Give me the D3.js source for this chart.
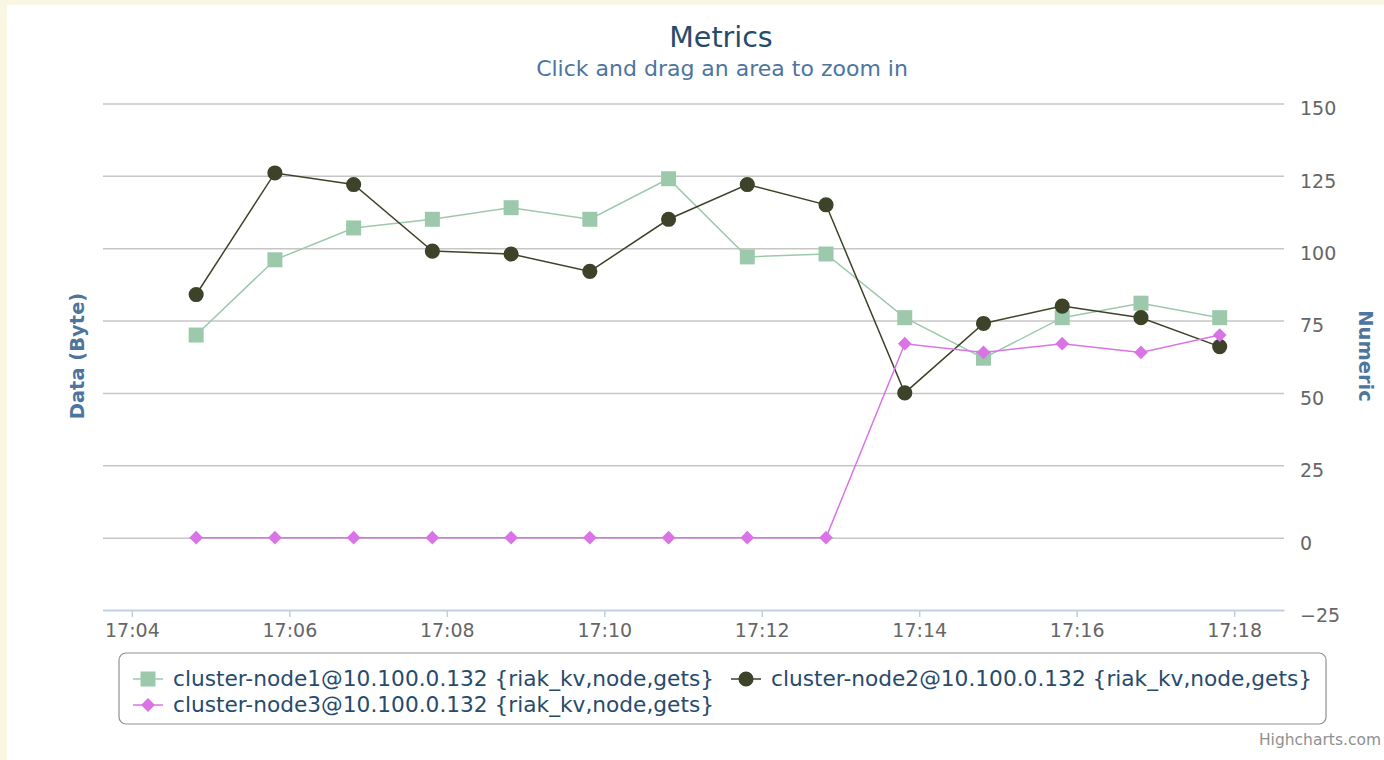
<!DOCTYPE html>
<html>
<head>
<meta charset="utf-8">
<script src="https://cdn.jsdelivr.net/npm/d3@7"></script>
<style>
body { margin: 0; background: #faf6e4; }
svg { display: block; }
text { font-family: "DejaVu Sans", sans-serif; }
</style>
</head>
<body>
<svg id="chart" width="1384" height="760"></svg>
<script>
// data
const times = ["17:04:49", "17:05:49", "17:06:49", "17:07:49", "17:08:49", "17:09:49", "17:10:49",
    "17:11:49", "17:12:49", "17:13:49", "17:14:49", "17:15:49", "17:16:49", "17:17:49"];
const node1 = [70, 96, 107, 110, 114, 110, 124, 97, 98, 76, 62, 76, 81, 76];
const node2 = [84, 126, 122, 99, 98, 92, 110, 122, 115, 50, 74, 80, 76, 66];
const node3 = [0, 0, 0, 0, 0, 0, 0, 0, 0, 67, 64, 67, 64, 70];
const seriesNames = [
    "cluster-node1@10.100.0.132 {riak_kv,node,gets}",
    "cluster-node2@10.100.0.132 {riak_kv,node,gets}",
    "cluster-node3@10.100.0.132 {riak_kv,node,gets}"
];
const xTickLabels = ["17:04", "17:06", "17:08", "17:10", "17:12", "17:14", "17:16", "17:18"];
const yTicks = [-25, 0, 25, 50, 75, 100, 125, 150];
const xDomain = ["17:03:38", "17:18:38"];

const parseSec = d3.timeParse("%H:%M:%S");
const parseMin = d3.timeParse("%H:%M");

const plot = {left: 103, right: 1284, top: 103.5, bottom: 610};

const svg = d3.select("#chart");

// white panel inside the cream page
svg.append("rect")
    .attr("x", 7).attr("y", 5)
    .attr("width", 1384 - 7).attr("height", 760 - 5)
    .attr("fill", "#ffffff");

const x = d3.scaleTime()
    .domain(xDomain.map(parseSec))
    .range([plot.left, plot.right]);

const y = d3.scaleLinear()
    .domain([-25, 150])
    .range([plot.bottom, plot.top]);

// title + subtitle
svg.append("text")
    .attr("x", 721).attr("y", 47)
    .attr("text-anchor", "middle")
    .attr("fill", "#274b6d")
    .style("font-size", "28.5px")
    .text("Metrics");

svg.append("text")
    .attr("x", 722).attr("y", 76)
    .attr("text-anchor", "middle")
    .attr("fill", "#4d759e")
    .style("font-size", "22px")
    .text("Click and drag an area to zoom in");

// grid + right axis
const yAxis = svg.append("g")
    .attr("transform", `translate(${plot.right},0)`)
    .call(d3.axisRight(y).tickValues(yTicks).tickSize(0).tickPadding(16));
yAxis.select(".domain").remove();
yAxis.selectAll(".tick text")
    .attr("fill", "#666666")
    .attr("dy", "0.6em")
    .style("font-size", "19px")
    .style("font-family", "DejaVu Sans, sans-serif");
yAxis.selectAll(".tick").append("line")
    .attr("x1", plot.left - plot.right).attr("x2", 0)
    .attr("stroke", "#c6c6c6")
    .attr("stroke-width", 1.5);

// x axis
const xAxis = svg.append("g")
    .attr("transform", `translate(0,${plot.bottom})`)
    .call(d3.axisBottom(x)
        .tickValues(xTickLabels.map(parseMin))
        .tickFormat(d3.timeFormat("%H:%M"))
        .tickSize(7).tickPadding(7).tickSizeOuter(0));
xAxis.select(".domain")
    .attr("stroke", "#c0d0e0").attr("stroke-width", 1.5);
xAxis.selectAll(".tick line").attr("stroke", "#c0d0e0").attr("stroke-width", 1.5);
xAxis.selectAll(".tick text")
    .attr("fill", "#666666")
    .style("font-size", "19px")
    .style("font-family", "DejaVu Sans, sans-serif");

// axis titles
svg.append("text")
    .attr("transform", "translate(77,356) rotate(-90)")
    .attr("text-anchor", "middle")
    .attr("dy", "0.35em")
    .attr("fill", "#4d759e")
    .style("font-size", "19.5px")
    .style("font-weight", "bold")
    .text("Data (Byte)");

svg.append("text")
    .attr("transform", "translate(1366,356) rotate(90)")
    .attr("text-anchor", "middle")
    .attr("dy", "0.35em")
    .attr("fill", "#4d759e")
    .style("font-size", "19.5px")
    .style("font-weight", "bold")
    .text("Numeric");

// series
const series = [
    {name: seriesNames[0], values: node1, color: "#9cc9ac", symbol: d3.symbolSquare, size: 225, rotate: 0},
    {name: seriesNames[1], values: node2, color: "#3d4328", symbol: d3.symbolCircle, size: 180, rotate: 0},
    {name: seriesNames[2], values: node3, color: "#da74e6", symbol: d3.symbolSquare, size: 95, rotate: 45}
];

const line = d3.line()
    .x(d => x(d.t))
    .y(d => y(d.v));

series.forEach(function(s) {
    const pts = s.values.map((v, i) => ({t: parseSec(times[i]), v: v}));
    const g = svg.append("g");
    g.append("path")
        .datum(pts)
        .attr("d", line)
        .attr("fill", "none")
        .attr("stroke", s.color)
        .attr("stroke-width", 1.5);
    g.selectAll("path.marker")
        .data(pts)
        .enter()
        .append("path")
        .attr("class", "marker")
        .attr("d", d3.symbol().type(s.symbol).size(s.size))
        .attr("transform", d => `translate(${x(d.t)},${y(d.v)}) rotate(${s.rotate})`)
        .attr("fill", s.color);
});

// legend
const legend = svg.append("g");
const box = legend.append("rect")
    .attr("x", 119).attr("y", 653)
    .attr("height", 71)
    .attr("rx", 7)
    .attr("fill", "#ffffff")
    .attr("stroke", "#909090")
    .attr("stroke-width", 1.2);

function legendItem(s, x0, yc) {
    const g = legend.append("g");
    g.append("line")
        .attr("x1", x0).attr("x2", x0 + 30)
        .attr("y1", yc).attr("y2", yc)
        .attr("stroke", s.color).attr("stroke-width", 1.5);
    g.append("path")
        .attr("d", d3.symbol().type(s.symbol).size(s.size))
        .attr("transform", `translate(${x0 + 15},${yc}) rotate(${s.rotate})`)
        .attr("fill", s.color);
    const t = g.append("text")
        .attr("x", x0 + 40).attr("y", yc + 7)
        .attr("fill", "#274b6d")
        .style("font-size", "21.7px")
        .text(s.name);
    return x0 + 40 + t.node().getComputedTextLength();
}

const end1 = legendItem(series[0], 133, 679);
const end2 = legendItem(series[1], end1 + 17, 679);
legendItem(series[2], 133, 705);
box.attr("width", end2 + 14 - 119);

// credits
svg.append("text")
    .attr("x", 1381).attr("y", 745)
    .attr("text-anchor", "end")
    .attr("fill", "#909090")
    .style("font-size", "15.5px")
    .text("Highcharts.com");
</script>
</body>
</html>
